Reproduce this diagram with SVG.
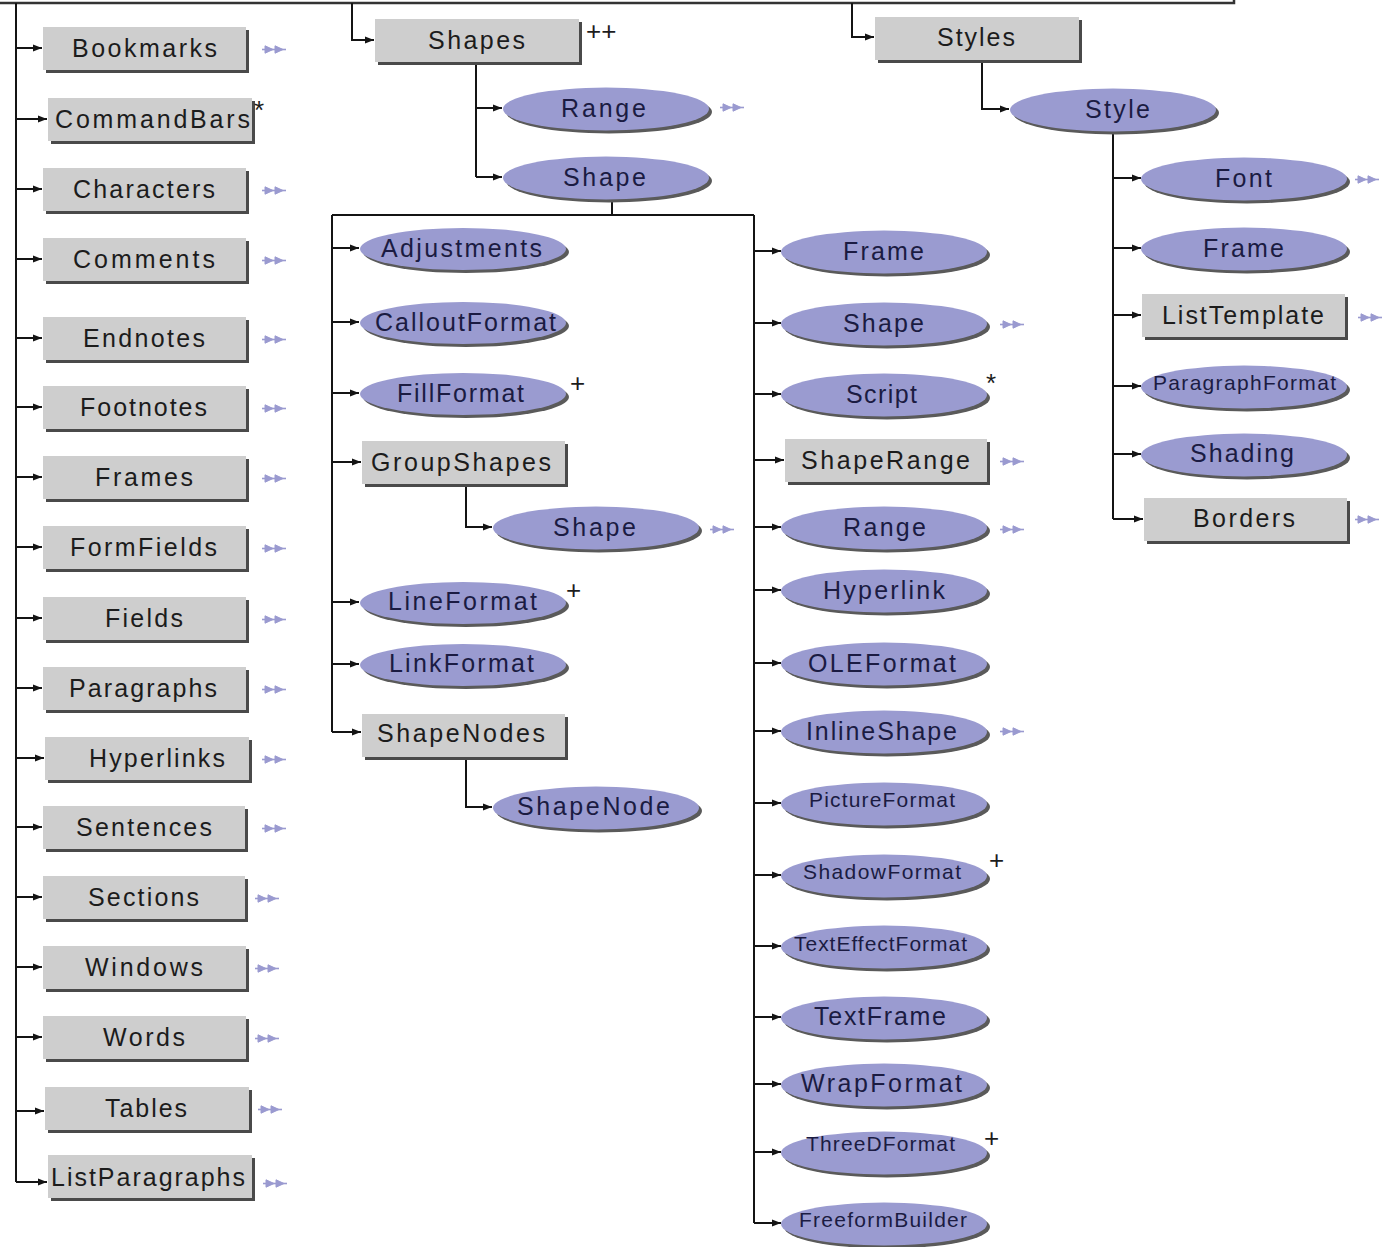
<svg xmlns="http://www.w3.org/2000/svg" width="1386" height="1247" viewBox="0 0 1386 1247">
  <style>
    .bg { fill: #ffffff; }
    .box { fill: #cecece; }
    .bsh { fill: #4a4a4a; }
    .ell { fill: #9a9bd0; }
    .esh { fill: #5a5a5a; }
    .wire { stroke: #141414; stroke-width: 2; fill: none; }
    .arr { stroke: #141414; stroke-width: 2; fill: none; marker-end: url(#head); }
    .frame { stroke: #333333; stroke-width: 2.5; fill: none; }
    text { font-family: "Liberation Sans", Arial, sans-serif; font-size: 25px; text-anchor: middle; }
    .bl { fill: #1c1c1c; }
    .el { fill: #1b1b42; }
    .sm { font-size: 21px; }
    .mk { fill: #1c1c1c; font-size: 26px; text-anchor: start; }
    .more { fill: #9a9ad0; stroke: #9a9ad0; }
  </style>
  <defs>
    <marker id="head" markerUnits="userSpaceOnUse" markerWidth="10" markerHeight="8" refX="9" refY="4" orient="auto">
      <path d="M0,0.5 L9,4 L0,7.5 z" fill="#141414"/>
    </marker>
    <!-- "more objects" double arrow glyph -->
    <symbol id="dbl" viewBox="0 0 26 9" width="26" height="9" overflow="visible">
      <path class="more" d="M0,4.5 H24" stroke-width="1.6"/>
      <path class="more" stroke="none" d="M3,0.8 L11,4.5 L3,8.2 z M13,0.8 L21,4.5 L13,8.2 z"/>
    </symbol>
  </defs>

  <rect class="bg" x="0" y="0" width="1386" height="1247"/>

  <!-- connectors -->
  <g id="connectors">
    <path class="frame" d="M0,3 H1234 V0"/>
    <!-- left trunk -->
    <path class="wire" d="M16,3 V1182"/>
    <path class="arr" d="M16,48 H42"/>
    <path class="arr" d="M16,119 H47"/>
    <path class="arr" d="M16,189 H42"/>
    <path class="arr" d="M16,259 H42"/>
    <path class="arr" d="M16,338 H42"/>
    <path class="arr" d="M16,407 H42"/>
    <path class="arr" d="M16,477 H42"/>
    <path class="arr" d="M16,547 H42"/>
    <path class="arr" d="M16,618 H42"/>
    <path class="arr" d="M16,688 H42"/>
    <path class="arr" d="M16,758 H44"/>
    <path class="arr" d="M16,827 H42"/>
    <path class="arr" d="M16,897 H42"/>
    <path class="arr" d="M16,967 H42"/>
    <path class="arr" d="M16,1037 H42"/>
    <path class="arr" d="M16,1111 H44"/>
    <path class="arr" d="M16,1182 H47"/>

    <!-- Shapes branch -->
    <path class="arr" d="M352,3 V40 H374"/>
    <path class="wire" d="M476,62 V177"/>
    <path class="arr" d="M476,108 H502"/>
    <path class="arr" d="M476,177 H502"/>
    <path class="wire" d="M612,199 V215 M332,215 H754 M332,215 V732 M754,215 V1223"/>

    <!-- Shape children, left -->
    <path class="arr" d="M332,248 H359"/>
    <path class="arr" d="M332,322 H359"/>
    <path class="arr" d="M332,393 H359"/>
    <path class="arr" d="M332,462 H361"/>
    <path class="arr" d="M466,484 V527 H492"/>
    <path class="arr" d="M332,602 H359"/>
    <path class="arr" d="M332,664 H359"/>
    <path class="arr" d="M332,732 H361"/>
    <path class="arr" d="M466,757 V807 H492"/>

    <!-- Shape children, right -->
    <path class="arr" d="M754,251 H781"/>
    <path class="arr" d="M754,323 H781"/>
    <path class="arr" d="M754,394 H781"/>
    <path class="arr" d="M754,460 H784"/>
    <path class="arr" d="M754,527 H781"/>
    <path class="arr" d="M754,590 H781"/>
    <path class="arr" d="M754,663 H781"/>
    <path class="arr" d="M754,731 H781"/>
    <path class="arr" d="M754,803 H781"/>
    <path class="arr" d="M754,875 H781"/>
    <path class="arr" d="M754,946 H781"/>
    <path class="arr" d="M754,1017 H781"/>
    <path class="arr" d="M754,1084 H781"/>
    <path class="arr" d="M754,1152 H781"/>
    <path class="arr" d="M754,1223 H781"/>

    <!-- Styles branch -->
    <path class="arr" d="M852,3 V37 H874"/>
    <path class="arr" d="M982,60 V109 H1009"/>
    <path class="wire" d="M1113,131 V519"/>
    <path class="arr" d="M1113,178 H1141"/>
    <path class="arr" d="M1113,248 H1141"/>
    <path class="arr" d="M1113,315 H1141"/>
    <path class="arr" d="M1113,386 H1141"/>
    <path class="arr" d="M1113,454 H1141"/>
    <path class="arr" d="M1113,519 H1143"/>
  </g>

  <!-- left column collections -->
  <g id="n-bookmarks"><rect class="bsh" x="46" y="30" width="203" height="43"/><rect class="box" x="43" y="27" width="203" height="43"/><text class="bl" x="144.5" y="57" textLength="145" lengthAdjust="spacing">Bookmarks</text><use href="#dbl" x="262" y="45"/></g>
  <g id="n-commandbars"><rect class="bsh" x="51" y="101" width="204" height="43"/><rect class="box" x="48" y="98" width="204" height="43"/><text class="bl" x="152.5" y="128" textLength="195" lengthAdjust="spacing">CommandBars</text><text class="mk" x="254" y="119">*</text></g>
  <g id="n-characters"><rect class="bsh" x="46" y="171" width="203" height="43"/><rect class="box" x="43" y="168" width="203" height="43"/><text class="bl" x="144" y="198" textLength="142" lengthAdjust="spacing">Characters</text><use href="#dbl" x="262" y="186"/></g>
  <g id="n-comments"><rect class="bsh" x="46" y="241" width="203" height="43"/><rect class="box" x="43" y="238" width="203" height="43"/><text class="bl" x="144" y="268" textLength="142" lengthAdjust="spacing">Comments</text><use href="#dbl" x="262" y="256"/></g>
  <g id="n-endnotes"><rect class="bsh" x="46" y="320" width="203" height="43"/><rect class="box" x="43" y="317" width="203" height="43"/><text class="bl" x="144" y="347" textLength="122" lengthAdjust="spacing">Endnotes</text><use href="#dbl" x="262" y="335"/></g>
  <g id="n-footnotes"><rect class="bsh" x="46" y="389" width="203" height="43"/><rect class="box" x="43" y="386" width="203" height="43"/><text class="bl" x="143.5" y="416" textLength="127" lengthAdjust="spacing">Footnotes</text><use href="#dbl" x="262" y="404"/></g>
  <g id="n-frames"><rect class="bsh" x="46" y="459" width="203" height="43"/><rect class="box" x="43" y="456" width="203" height="43"/><text class="bl" x="144" y="486" textLength="98" lengthAdjust="spacing">Frames</text><use href="#dbl" x="262" y="474"/></g>
  <g id="n-formfields"><rect class="bsh" x="46" y="529" width="203" height="43"/><rect class="box" x="43" y="526" width="203" height="43"/><text class="bl" x="143.5" y="556" textLength="147" lengthAdjust="spacing">FormFields</text><use href="#dbl" x="262" y="544"/></g>
  <g id="n-fields"><rect class="bsh" x="46" y="600" width="203" height="43"/><rect class="box" x="43" y="597" width="203" height="43"/><text class="bl" x="144" y="627" textLength="78" lengthAdjust="spacing">Fields</text><use href="#dbl" x="262" y="615"/></g>
  <g id="n-paragraphs"><rect class="bsh" x="46" y="670" width="203" height="43"/><rect class="box" x="43" y="667" width="203" height="43"/><text class="bl" x="143" y="697" textLength="148" lengthAdjust="spacing">Paragraphs</text><use href="#dbl" x="262" y="685"/></g>
  <g id="n-hyperlinks"><rect class="bsh" x="48" y="740" width="204" height="43"/><rect class="box" x="45" y="737" width="204" height="43"/><text class="bl" x="157" y="767" textLength="136" lengthAdjust="spacing">Hyperlinks</text><use href="#dbl" x="262" y="755"/></g>
  <g id="n-sentences"><rect class="bsh" x="46" y="809" width="202" height="43"/><rect class="box" x="43" y="806" width="202" height="43"/><text class="bl" x="144" y="836" textLength="136" lengthAdjust="spacing">Sentences</text><use href="#dbl" x="262" y="824"/></g>
  <g id="n-sections"><rect class="bsh" x="46" y="879" width="202" height="43"/><rect class="box" x="43" y="876" width="202" height="43"/><text class="bl" x="143.5" y="906" textLength="111" lengthAdjust="spacing">Sections</text><use href="#dbl" x="255" y="894"/></g>
  <g id="n-windows"><rect class="bsh" x="46" y="949" width="203" height="43"/><rect class="box" x="43" y="946" width="203" height="43"/><text class="bl" x="144" y="976" textLength="118" lengthAdjust="spacing">Windows</text><use href="#dbl" x="255" y="964"/></g>
  <g id="n-words"><rect class="bsh" x="46" y="1019" width="203" height="43"/><rect class="box" x="43" y="1016" width="203" height="43"/><text class="bl" x="144" y="1046" textLength="82" lengthAdjust="spacing">Words</text><use href="#dbl" x="255" y="1034"/></g>
  <g id="n-tables"><rect class="bsh" x="48" y="1090" width="204" height="43"/><rect class="box" x="45" y="1087" width="204" height="43"/><text class="bl" x="146" y="1117" textLength="82" lengthAdjust="spacing">Tables</text><use href="#dbl" x="258" y="1105"/></g>
  <g id="n-listparagraphs"><rect class="bsh" x="51" y="1158" width="204" height="43"/><rect class="box" x="48" y="1155" width="204" height="43"/><text class="bl" x="148" y="1186" textLength="194" lengthAdjust="spacing">ListParagraphs</text><use href="#dbl" x="263" y="1179"/></g>

  <!-- Shapes subtree -->
  <g id="n-shapes"><rect class="bsh" x="378" y="22" width="204" height="43"/><rect class="box" x="375" y="19" width="204" height="43"/><text class="bl" x="476.5" y="48.5" textLength="97" lengthAdjust="spacing">Shapes</text><text class="mk" x="586" y="40">++</text></g>
  <g id="n-range-top"><ellipse class="esh" cx="609" cy="112" rx="103" ry="21.5"/><ellipse class="ell" cx="606" cy="109" rx="103" ry="21.5"/><text class="el" x="603.5" y="117" textLength="85" lengthAdjust="spacing">Range</text><use href="#dbl" x="720" y="103"/></g>
  <g id="n-shape-top"><ellipse class="esh" cx="609" cy="181" rx="103" ry="21.5"/><ellipse class="ell" cx="606" cy="178" rx="103" ry="21.5"/><text class="el" x="604.5" y="185.5" textLength="83" lengthAdjust="spacing">Shape</text></g>

  <g id="n-adjustments"><ellipse class="esh" cx="466" cy="252" rx="103" ry="21"/><ellipse class="ell" cx="463" cy="249" rx="103" ry="21"/><text class="el" x="461.5" y="257" textLength="161" lengthAdjust="spacing">Adjustments</text></g>
  <g id="n-calloutformat"><ellipse class="esh" cx="466" cy="326" rx="103" ry="21"/><ellipse class="ell" cx="463" cy="323" rx="103" ry="21"/><text class="el" x="465.5" y="331" textLength="181" lengthAdjust="spacing">CalloutFormat</text></g>
  <g id="n-fillformat"><ellipse class="esh" cx="466" cy="397" rx="103" ry="21"/><ellipse class="ell" cx="463" cy="394" rx="103" ry="21"/><text class="el" x="460.5" y="402" textLength="127" lengthAdjust="spacing">FillFormat</text><text class="mk" x="570" y="392">+</text></g>
  <g id="n-groupshapes"><rect class="bsh" x="365" y="444" width="203" height="43"/><rect class="box" x="362" y="441" width="203" height="43"/><text class="bl" x="461" y="471" textLength="180" lengthAdjust="spacing">GroupShapes</text></g>
  <g id="n-shape-group"><ellipse class="esh" cx="599" cy="531" rx="103" ry="21.5"/><ellipse class="ell" cx="596" cy="528" rx="103" ry="21.5"/><text class="el" x="594.5" y="536" textLength="83" lengthAdjust="spacing">Shape</text><use href="#dbl" x="710" y="525"/></g>
  <g id="n-lineformat"><ellipse class="esh" cx="466" cy="606" rx="103" ry="21"/><ellipse class="ell" cx="463" cy="603" rx="103" ry="21"/><text class="el" x="462.5" y="610" textLength="149" lengthAdjust="spacing">LineFormat</text><text class="mk" x="566" y="599">+</text></g>
  <g id="n-linkformat"><ellipse class="esh" cx="466" cy="668" rx="103" ry="21"/><ellipse class="ell" cx="463" cy="665" rx="103" ry="21"/><text class="el" x="461.5" y="672" textLength="145" lengthAdjust="spacing">LinkFormat</text></g>
  <g id="n-shapenodes"><rect class="bsh" x="365" y="717" width="203" height="43"/><rect class="box" x="362" y="714" width="203" height="43"/><text class="bl" x="461" y="742" textLength="168" lengthAdjust="spacing">ShapeNodes</text></g>
  <g id="n-shapenode"><ellipse class="esh" cx="599" cy="811" rx="103" ry="21.5"/><ellipse class="ell" cx="596" cy="808" rx="103" ry="21.5"/><text class="el" x="593.5" y="815" textLength="153" lengthAdjust="spacing">ShapeNode</text></g>

  <g id="n-frame-shape"><ellipse class="esh" cx="887" cy="255" rx="103" ry="21.5"/><ellipse class="ell" cx="884" cy="252" rx="103" ry="21.5"/><text class="el" x="883.5" y="260" textLength="81" lengthAdjust="spacing">Frame</text></g>
  <g id="n-shape-shape"><ellipse class="esh" cx="887" cy="327" rx="103" ry="21.5"/><ellipse class="ell" cx="884" cy="324" rx="103" ry="21.5"/><text class="el" x="883.5" y="332" textLength="81" lengthAdjust="spacing">Shape</text><use href="#dbl" x="1000" y="320"/></g>
  <g id="n-script"><ellipse class="esh" cx="887" cy="398" rx="103" ry="21.5"/><ellipse class="ell" cx="884" cy="395" rx="103" ry="21.5"/><text class="el" x="881.5" y="403" textLength="71" lengthAdjust="spacing">Script</text><text class="mk" x="986" y="392">*</text></g>
  <g id="n-shaperange"><rect class="bsh" x="788" y="442" width="202" height="43"/><rect class="box" x="785" y="439" width="202" height="43"/><text class="bl" x="885.5" y="469" textLength="169" lengthAdjust="spacing">ShapeRange</text><use href="#dbl" x="1000" y="457"/></g>
  <g id="n-range-shape"><ellipse class="esh" cx="887" cy="531" rx="103" ry="21.5"/><ellipse class="ell" cx="884" cy="528" rx="103" ry="21.5"/><text class="el" x="884.5" y="536" textLength="83" lengthAdjust="spacing">Range</text><use href="#dbl" x="1000" y="525"/></g>
  <g id="n-hyperlink"><ellipse class="esh" cx="887" cy="594" rx="103" ry="21.5"/><ellipse class="ell" cx="884" cy="591" rx="103" ry="21.5"/><text class="el" x="884" y="599" textLength="122" lengthAdjust="spacing">Hyperlink</text></g>
  <g id="n-oleformat"><ellipse class="esh" cx="887" cy="667" rx="103" ry="21.5"/><ellipse class="ell" cx="884" cy="664" rx="103" ry="21.5"/><text class="el" x="882" y="672" textLength="148" lengthAdjust="spacing">OLEFormat</text></g>
  <g id="n-inlineshape"><ellipse class="esh" cx="887" cy="735" rx="103" ry="21.5"/><ellipse class="ell" cx="884" cy="732" rx="103" ry="21.5"/><text class="el" x="881.5" y="740" textLength="151" lengthAdjust="spacing">InlineShape</text><use href="#dbl" x="1000" y="727"/></g>
  <g id="n-pictureformat"><ellipse class="esh" cx="887" cy="807" rx="103" ry="21.5"/><ellipse class="ell" cx="884" cy="804" rx="103" ry="21.5"/><text class="el sm" x="882" y="807" textLength="146" lengthAdjust="spacing">PictureFormat</text></g>
  <g id="n-shadowformat"><ellipse class="esh" cx="887" cy="879" rx="103" ry="21.5"/><ellipse class="ell" cx="884" cy="876" rx="103" ry="21.5"/><text class="el sm" x="882" y="879" textLength="158" lengthAdjust="spacing">ShadowFormat</text><text class="mk" x="989" y="869">+</text></g>
  <g id="n-texteffectformat"><ellipse class="esh" cx="887" cy="950" rx="103" ry="21.5"/><ellipse class="ell" cx="884" cy="947" rx="103" ry="21.5"/><text class="el sm" x="880.5" y="951" textLength="173" lengthAdjust="spacing">TextEffectFormat</text></g>
  <g id="n-textframe"><ellipse class="esh" cx="887" cy="1021" rx="103" ry="21.5"/><ellipse class="ell" cx="884" cy="1018" rx="103" ry="21.5"/><text class="el" x="880" y="1025" textLength="132" lengthAdjust="spacing">TextFrame</text></g>
  <g id="n-wrapformat"><ellipse class="esh" cx="887" cy="1088" rx="103" ry="21.5"/><ellipse class="ell" cx="884" cy="1085" rx="103" ry="21.5"/><text class="el" x="881.5" y="1092" textLength="161" lengthAdjust="spacing">WrapFormat</text></g>
  <g id="n-threedformat"><ellipse class="esh" cx="887" cy="1156" rx="103" ry="21.5"/><ellipse class="ell" cx="884" cy="1153" rx="103" ry="21.5"/><text class="el sm" x="880.5" y="1151" textLength="149" lengthAdjust="spacing">ThreeDFormat</text><text class="mk" x="984" y="1147">+</text></g>
  <g id="n-freeformbuilder"><ellipse class="esh" cx="887" cy="1227" rx="103" ry="21.5"/><ellipse class="ell" cx="884" cy="1224" rx="103" ry="21.5"/><text class="el sm" x="883" y="1227" textLength="168" lengthAdjust="spacing">FreeformBuilder</text></g>

  <!-- Styles subtree -->
  <g id="n-styles"><rect class="bsh" x="878" y="20" width="204" height="43"/><rect class="box" x="875" y="17" width="204" height="43"/><text class="bl" x="976" y="46" textLength="78" lengthAdjust="spacing">Styles</text></g>
  <g id="n-style"><ellipse class="esh" cx="1116" cy="113" rx="103" ry="21.5"/><ellipse class="ell" cx="1113" cy="110" rx="103" ry="21.5"/><text class="el" x="1117.5" y="118" textLength="65" lengthAdjust="spacing">Style</text></g>
  <g id="n-font"><ellipse class="esh" cx="1247" cy="182" rx="103" ry="21.5"/><ellipse class="ell" cx="1244" cy="179" rx="103" ry="21.5"/><text class="el" x="1243.5" y="187" textLength="57" lengthAdjust="spacing">Font</text><use href="#dbl" x="1355" y="175"/></g>
  <g id="n-frame-style"><ellipse class="esh" cx="1247" cy="252" rx="103" ry="21.5"/><ellipse class="ell" cx="1244" cy="249" rx="103" ry="21.5"/><text class="el" x="1243.5" y="257" textLength="81" lengthAdjust="spacing">Frame</text></g>
  <g id="n-listtemplate"><rect class="bsh" x="1145" y="297" width="203" height="43"/><rect class="box" x="1142" y="294" width="203" height="43"/><text class="bl" x="1243" y="324" textLength="162" lengthAdjust="spacing">ListTemplate</text><use href="#dbl" x="1358" y="313"/></g>
  <g id="n-paragraphformat"><ellipse class="esh" cx="1247" cy="390" rx="103" ry="21.5"/><ellipse class="ell" cx="1244" cy="387" rx="103" ry="21.5"/><text class="el sm" x="1244.5" y="390" textLength="183" lengthAdjust="spacing">ParagraphFormat</text></g>
  <g id="n-shading"><ellipse class="esh" cx="1247" cy="458" rx="103" ry="21.5"/><ellipse class="ell" cx="1244" cy="455" rx="103" ry="21.5"/><text class="el" x="1242" y="462" textLength="104" lengthAdjust="spacing">Shading</text></g>
  <g id="n-borders"><rect class="bsh" x="1147" y="501" width="203" height="43"/><rect class="box" x="1144" y="498" width="203" height="43"/><text class="bl" x="1244" y="527" textLength="102" lengthAdjust="spacing">Borders</text><use href="#dbl" x="1355" y="515"/></g>
</svg>
